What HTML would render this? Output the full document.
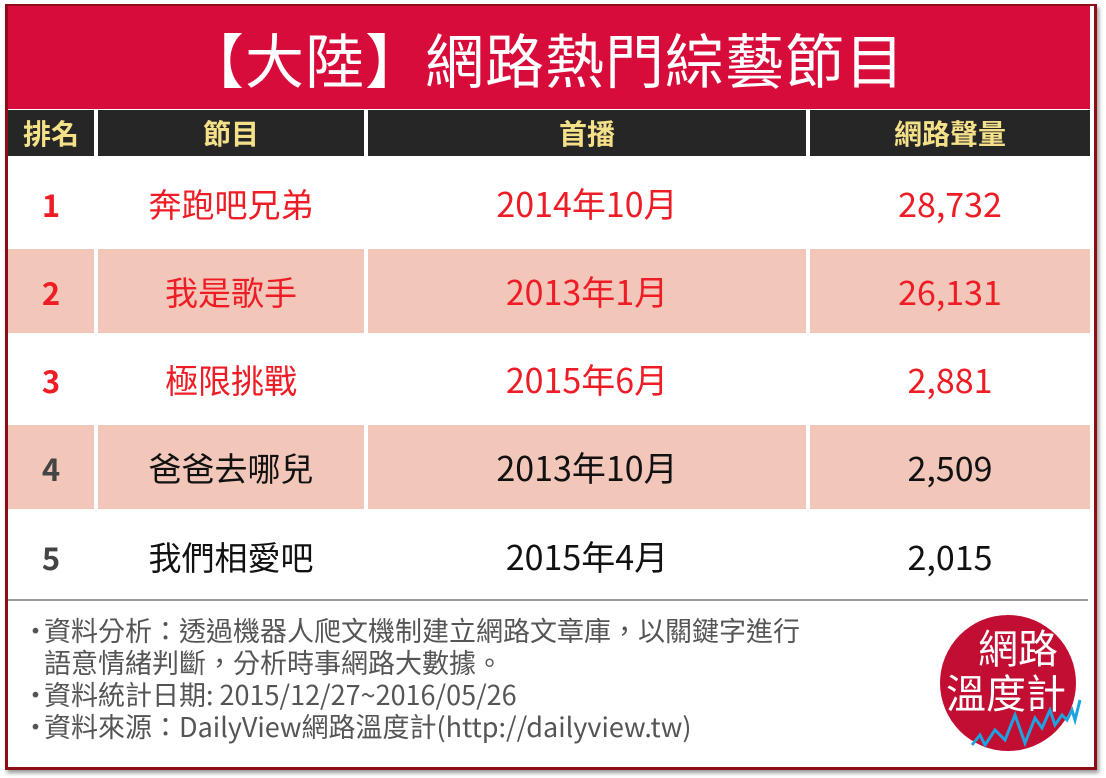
<!DOCTYPE html>
<html><head><meta charset="utf-8"><style>
body{margin:0;width:1106px;height:778px;background:#fff;position:relative;overflow:hidden;font-family:"Noto Sans CJK TC",sans-serif}
.box{position:absolute;left:5px;top:4px;width:1086px;height:761px;border:3px solid #8e0e18;border-top-width:2px;box-shadow:2px 3px 4px #999}
.title{position:absolute;left:8px;top:6px;width:1074px;height:103px;background:#d80c3a;color:#fff;font-size:59px;text-align:center;line-height:103px;letter-spacing:1px;padding-right:8px}
.c{position:absolute;display:flex;align-items:center;justify-content:center;font-size:34px;line-height:1}
.n{font-size:33px}
.h{background:#262626;color:#f5e08a;font-weight:bold;font-size:28px;top:110px;height:46px}
.p{background:#f2c6b8}
.r{color:#ee1c25}.k{color:#111}
.f{position:absolute;left:22px;color:#555;font-size:27px;line-height:32px;white-space:nowrap}
.f span{display:inline-block;width:22px}
</style></head><body>
<div class="box"></div>
<div class="title">【大陸】網路熱門綜藝節目</div>
<div class="c h" style="left:8px;width:86px">排名</div>
<div class="c h" style="left:98px;width:266px">節目</div>
<div class="c h" style="left:368px;width:438px">首播</div>
<div class="c h" style="left:810px;width:280px">網路聲量</div>

<div class="c r" style="left:8px;width:86px;top:160px;height:86px;font-weight:bold;font-size:31px">1</div>
<div class="c r n" style="left:98px;width:266px;top:160px;height:86px">奔跑吧兄弟</div>
<div class="c r" style="left:368px;width:438px;top:160px;height:86px">2014年10月</div>
<div class="c r" style="left:810px;width:280px;top:160px;height:86px">28,732</div>

<div class="c r p" style="left:8px;width:86px;top:249px;height:84px;font-weight:bold;font-size:31px">2</div>
<div class="c r p n" style="left:98px;width:266px;top:249px;height:84px">我是歌手</div>
<div class="c r p" style="left:368px;width:438px;top:249px;height:84px">2013年1月</div>
<div class="c r p" style="left:810px;width:280px;top:249px;height:84px">26,131</div>

<div class="c r" style="left:8px;width:86px;top:337px;height:84px;font-weight:bold;font-size:31px">3</div>
<div class="c r n" style="left:98px;width:266px;top:337px;height:84px">極限挑戰</div>
<div class="c r" style="left:368px;width:438px;top:337px;height:84px">2015年6月</div>
<div class="c r" style="left:810px;width:280px;top:337px;height:84px">2,881</div>

<div class="c k p" style="left:8px;width:86px;top:425px;height:84px;font-weight:bold;color:#444;font-size:31px">4</div>
<div class="c k p n" style="left:98px;width:266px;top:425px;height:84px">爸爸去哪兒</div>
<div class="c k p" style="left:368px;width:438px;top:425px;height:84px">2013年10月</div>
<div class="c k p" style="left:810px;width:280px;top:425px;height:84px">2,509</div>

<div class="c k" style="left:8px;width:86px;top:513px;height:86px;font-weight:bold;color:#444;font-size:31px">5</div>
<div class="c k n" style="left:98px;width:266px;top:513px;height:86px">我們相愛吧</div>
<div class="c k" style="left:368px;width:438px;top:513px;height:86px">2015年4月</div>
<div class="c k" style="left:810px;width:280px;top:513px;height:86px">2,015</div>

<div style="position:absolute;left:8px;top:599px;width:1080px;height:2px;background:#999"></div>
<div class="f" style="top:614px"><span>·</span>資料分析：透過機器人爬文機制建立網路文章庫，以關鍵字進行<br><span></span>語意情緒判斷，分析時事網路大數據。<br><span>·</span>資料統計日期: 2015/12/27~2016/05/26<br><span>·</span>資料來源：DailyView網路溫度計(http://dailyview.tw)</div>

<svg style="position:absolute;left:900px;top:590px" width="206" height="188">
<circle cx="108" cy="93" r="68" fill="#c20e32"/>
<text x="118" y="73" fill="#fff" font-size="40" text-anchor="middle" font-family="Noto Sans CJK TC,sans-serif">網路</text>
<text x="106" y="118" fill="#fff" font-size="40" text-anchor="middle" font-family="Noto Sans CJK TC,sans-serif">溫度計</text>
<polyline points="72,155 80,145 85,155 95,140 105,150 115,125 125,153 135,128 142,138 150,120 155,135 162,125 167,130 172,120 175,130 180,110" fill="none" stroke="#1ea3e0" stroke-width="3"/>
</svg>
</body></html>
